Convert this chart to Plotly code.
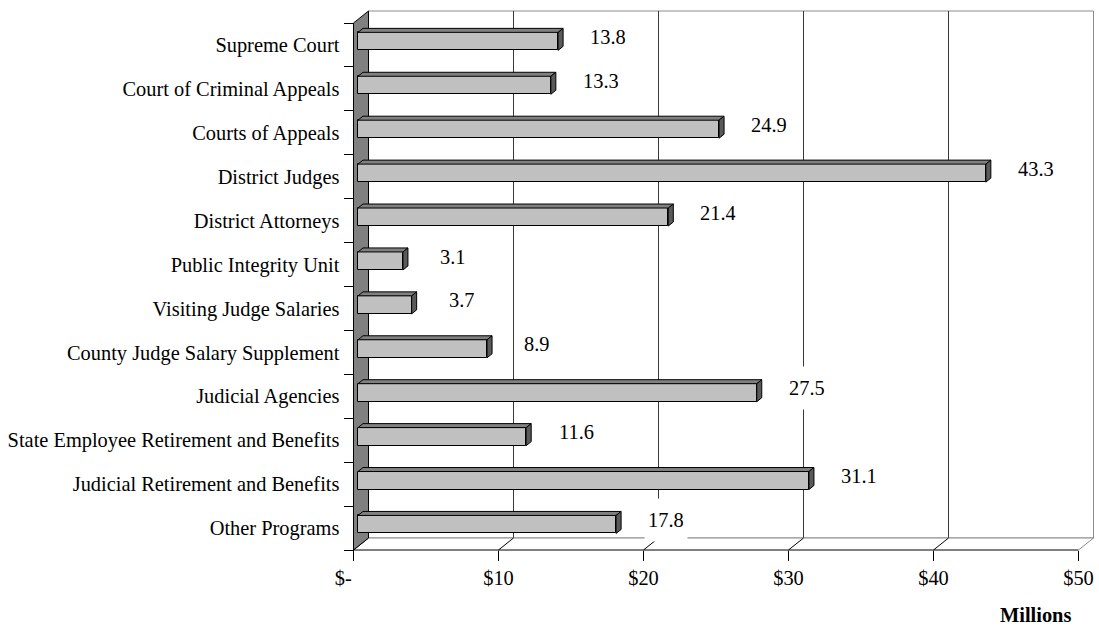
import plotly.graph_objects as go

# ---- data -------------------------------------------------------------
categories = [
    "Supreme Court",
    "Court of Criminal Appeals",
    "Courts of Appeals",
    "District Judges",
    "District Attorneys",
    "Public Integrity Unit",
    "Visiting Judge Salaries",
    "County Judge Salary Supplement",
    "Judicial Agencies",
    "State Employee Retirement and Benefits",
    "Judicial Retirement and Benefits",
    "Other Programs",
]
amounts = [13.8, 13.3, 24.9, 43.3, 21.4, 3.1, 3.7, 8.9, 27.5, 11.6, 31.1, 17.8]
tick_values = [0, 10, 20, 30, 40, 50]
tick_labels = ["$-\u00a0\u00a0\u00a0\u00a0", "$10", "$20", "$30", "$40", "$50"]

# ---- geometry (pixels) -----------------------------------------------
W, H = 1099, 629
L, R, T, B = 343, 1095, 8, 560          # plot area
X0 = 353.5                              # front edge of the floor at $0
Y0, Y1 = 23.0, 550.0                    # front edge of the wall, top / bottom
n = len(categories)
SX = 14.5                               # px per $1M
SY = (Y1 - Y0) / n                      # px per category row
FONT = "Liberation Serif"
FSIZE = 20.4


def ux(px):
    return px / SX


def uy(px):
    return px / SY


wdx, wdy = ux(15), uy(12)        # depth of the whole 3-D box
bpx, bpy = ux(4.5), uy(3.6)      # depth at which the bar fronts sit
bdx, bdy = ux(5), uy(4)          # bar thickness in depth
bar_h = uy(18)                   # bar front-face height
xmax = tick_values[-1]
c_top, c_bot = -0.5, n - 0.5

x_range = [(L - X0) / SX, (R - X0) / SX]
y_range = [(B - Y0) / SY - 0.5, (T - Y0) / SY - 0.5]

rows = list(range(n))


def poly(pts):
    return "M " + " L ".join(f"{x},{y}" for x, y in pts) + " Z"


shapes = []
# back wall
shapes.append(dict(type="path", xref="x", yref="y", layer="below",
                   path=poly([(wdx, c_top - wdy), (xmax + wdx, c_top - wdy),
                              (xmax + wdx, c_bot - wdy), (wdx, c_bot - wdy)]),
                   fillcolor="white", line=dict(color="#8c8c8c", width=1)))
# gridlines on the back wall
for t in tick_values[1:-1]:
    shapes.append(dict(type="line", xref="x", yref="y", layer="below",
                       x0=t + wdx, x1=t + wdx, y0=c_top - wdy, y1=c_bot - wdy,
                       line=dict(color="#3a3a3a", width=1)))
# floor
shapes.append(dict(type="path", xref="x", yref="y", layer="below",
                   path=poly([(0, c_bot), (xmax, c_bot),
                              (xmax + wdx, c_bot - wdy), (wdx, c_bot - wdy)]),
                   fillcolor="white", line=dict(width=0)))
shapes.append(dict(type="line", xref="x", yref="y", layer="below",
                   x0=wdx, x1=xmax + wdx, y0=c_bot - wdy, y1=c_bot - wdy,
                   line=dict(color="#8c8c8c", width=1)))
for t in tick_values:
    shapes.append(dict(type="line", xref="x", yref="y", layer="below",
                       x0=t, x1=t + wdx, y0=c_bot, y1=c_bot - wdy,
                       line=dict(color="black" if t < xmax else "#8c8c8c", width=1)))
shapes.append(dict(type="line", xref="x", yref="y", layer="below",
                   x0=0, x1=xmax, y0=c_bot, y1=c_bot,
                   line=dict(color="black", width=1)))
# side wall
shapes.append(dict(type="path", xref="x", yref="y", layer="below",
                   path=poly([(0, c_top), (wdx, c_top - wdy),
                              (wdx, c_bot - wdy), (0, c_bot)]),
                   fillcolor="#808080", line=dict(color="black", width=1)))

fig = go.Figure()

# bar fronts
fig.add_trace(go.Bar(
    y=rows, x=amounts, base=bpx, orientation="h",
    width=bar_h, offset=-bar_h / 2 - bpy,
    marker=dict(color="#c0c0c0", line=dict(color="black", width=1)),
    hoverinfo="skip", showlegend=False,
))

# bar tops and ends
top_x, top_y, end_x, end_y = [], [], [], []
for r, v in zip(rows, amounts):
    yt = r - bpy - bar_h / 2
    yb = yt + bar_h
    xs = bpx
    xe = bpx + v
    top_x += [xs, xe, xe + bdx, xs + bdx, xs, None]
    top_y += [yt, yt, yt - bdy, yt - bdy, yt, None]
    end_x += [xe, xe, xe + bdx, xe + bdx, xe, None]
    end_y += [yt, yb, yb - bdy, yt - bdy, yt, None]

fig.add_trace(go.Scatter(x=top_x, y=top_y, mode="lines", fill="toself",
                         fillcolor="#808080", line=dict(color="black", width=1),
                         hoverinfo="skip", showlegend=False))
fig.add_trace(go.Scatter(x=end_x, y=end_y, mode="lines", fill="toself",
                         fillcolor="#5a5a5a", line=dict(color="black", width=1),
                         hoverinfo="skip", showlegend=False))

# value labels
annotations = []
for r, v in zip(rows, amounts):
    annotations.append(dict(
        x=bpx + v, y=r, xref="x", yref="y", text=f"{v}",
        showarrow=False, xanchor="center", yanchor="middle",
        xshift=50, yshift=8, bgcolor="white", borderpad=3, height=36,
        font=dict(family=FONT, size=FSIZE, color="black"),
    ))
annotations.append(dict(
    x=(1035 - L) / (R - L), y=(B - 615) / (B - T), xref="paper", yref="paper",
    text="<b>Millions</b>", showarrow=False, xanchor="center", yanchor="middle",
    font=dict(family=FONT, size=FSIZE, color="black"),
))

fig.update_layout(
    width=W, height=H,
    margin=dict(l=L, r=W - R, t=T, b=H - B, pad=0),
    paper_bgcolor="white", plot_bgcolor="rgba(0,0,0,0)",
    shapes=shapes, annotations=annotations,
    bargap=0,
    xaxis=dict(
        range=x_range, anchor="free", position=(B - Y1) / (B - T),
        showgrid=False, zeroline=False, showline=False,
        tickmode="array", tickvals=tick_values, ticktext=tick_labels,
        ticks="outside", ticklen=10, tickcolor="black", tickwidth=1,
        tickfont=dict(family=FONT, size=FSIZE, color="black"),
        fixedrange=True,
    ),
    yaxis=dict(
        range=y_range, anchor="free", position=(X0 - L) / (R - L),
        showgrid=False, zeroline=False, showline=False,
        tickmode="array", tickvals=rows, ticktext=categories,
        ticks="outside", ticklen=10, tickcolor="rgba(0,0,0,0)",
        minor=dict(tickmode="linear", tick0=0.5, dtick=1, ticks="outside",
                   ticklen=10, tickcolor="black", tickwidth=1, showgrid=False),
        tickfont=dict(family=FONT, size=FSIZE, color="black"),
        fixedrange=True,
    ),
)

fig.write_html("out.html")
